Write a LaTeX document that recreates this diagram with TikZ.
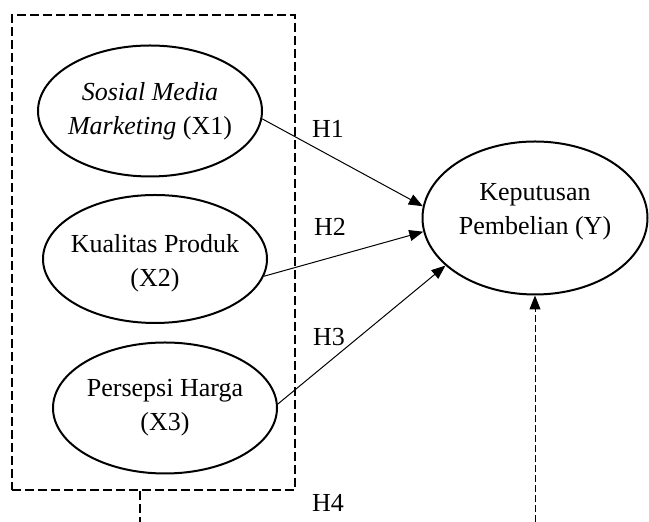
\documentclass[tikz,border=0pt]{standalone}
\usepackage{fontspec}
\setmainfont{Liberation Serif}
\usetikzlibrary{shapes.geometric,arrows.meta}

\begin{document}
\begin{tikzpicture}[x=0.5pt, y=-0.5pt,
	latent/.style={ellipse, draw, line width=1pt, inner sep=0pt},
	lbl/.style={align=center, font=\fontsize{13}{17}\selectfont},
	grpline/.style={line width=1pt, dash pattern=on 4.5pt off 2pt},
	grpbox/.style={draw, grpline, inner sep=0pt},
	hyp/.style={-{Triangle[length=7pt,width=5.5pt]}, line width=0.5pt},
	hypd/.style={hyp, dash pattern=on 3.5pt off 1.5pt}]
\useasboundingbox (0,0) rectangle (649,522);
\node[grpbox, minimum width=141.5pt, minimum height=237.5pt] (grp) at (153.5,252.5) {};
\node[latent, minimum width=112pt, minimum height=65.5pt, label={[lbl]center:{\textit{Sosial Media}\\\textit{Marketing} (X1)}}] (x1) at (150,111) {};
\node[latent, minimum width=112pt, minimum height=64pt, label={[lbl, yshift=-2pt]center:{Kualitas Produk\\(X2)}}] (x2) at (155,259) {};
\node[latent, minimum width=112pt, minimum height=65.5pt, label={[lbl]center:{Persepsi Harga\\(X3)}}] (x3) at (165,408) {};
\node[latent, minimum width=112.5pt, minimum height=76.5pt, label={[lbl, yshift=3pt]center:{Keputusan\\Pembelian (Y)}}] (y) at (535,218) {};
\node[lbl] (h1) at (328,129) {H1};
\node[lbl] (h2) at (330,227) {H2};
\node[lbl] (h3) at (329,337) {H3};
\node[lbl] (h4) at (328,503) {H4};
\draw[hyp] (x1.-4) -- (y.174);
\draw[hyp] (x2.-9) -- (y.187);
\draw[hyp] (x3.2) -- (y.208);
\coordinate (h4a) at (140,522);
\coordinate (h4b) at (535,522);
\draw[grpline] (grp.south -| h4a) -- (h4a);
\draw[hypd] (h4b) -- (y);
\end{tikzpicture}
\end{document}
